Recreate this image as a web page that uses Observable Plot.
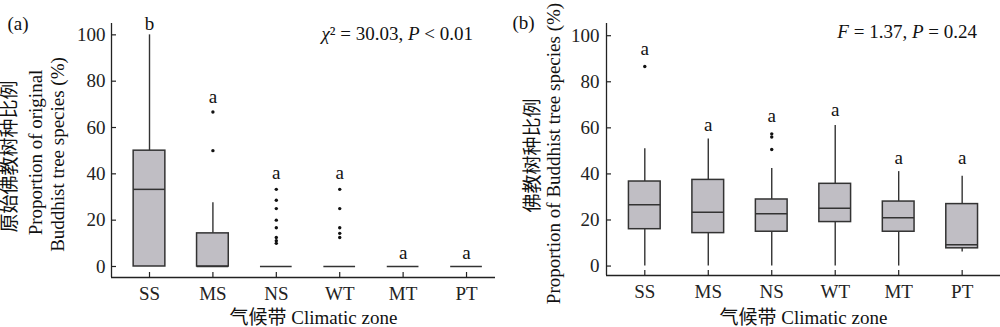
<!DOCTYPE html>
<html><head><meta charset="utf-8">
<script src="https://cdn.jsdelivr.net/npm/d3@7"></script>
<script src="https://cdn.jsdelivr.net/npm/@observablehq/plot@0.6"></script>
<style>
body{margin:0;background:#fff;}
#wrap{display:flex;width:1000px;height:327px;overflow:hidden;}
#wrap > div{width:500px;height:327px;}
</style></head><body><div id="wrap"><div id="pa"></div><div id="pb"></div></div>
<script>
const zones = ["SS","MS","NS","WT","MT","PT"];
const yTicks = [0,20,40,60,80,100];

// Panel (a): proportion of original Buddhist tree species
const aLow  = [0, 0, 0, 0, 0, 0];
const aQ1   = [0, 0, 0, 0, 0, 0];
const aMed  = [33.3, 0, 0, 0, 0, 0];
const aQ3   = [50, 14.3, 0, 0, 0, 0];
const aHigh = [100, 27.5, 0, 0, 0, 0];
const aOutZone = ["MS","MS","NS","NS","NS","NS","NS","NS","NS","NS","WT","WT","WT","WT","WT"];
const aOutVal  = [66.7, 50, 33.3, 28.6, 25, 20, 16.7, 12.5, 11.1, 10, 33.3, 25, 16.7, 14.3, 12.5];
const aLetters = ["b","a","a","a","a","a"];
const aLetterY = [104.7, 73.1, 40.4, 40.4, 5.9, 5.9];

// Panel (b): proportion of Buddhist tree species
const bLow  = [0, 0, 0, 0, 0, 6.1];
const bQ1   = [16.0, 14.3, 14.9, 19.1, 14.9, 7.7];
const bMed  = [26.6, 23.4, 22.7, 25.1, 21.0, 9.3];
const bQ3   = [36.7, 37.4, 28.9, 35.7, 28.0, 26.9];
const bHigh = [50.9, 55.2, 42.3, 61.0, 41.0, 39.0];
const bOutZone = ["SS","NS","NS","NS"];
const bOutVal  = [86.6, 57.4, 56.0, 50.6];
const bLetters = ["a","a","a","a","a","a"];
const bLetterY = [94.2, 61.2, 65.0, 67.8, 46.8, 46.8];

const FONT = "'Liberation Serif','Times New Roman','Noto Sans CJK SC',serif";
const FILL = "#c0bec4", STROKE = "#333";
const TICK = 5, HALF = 0.25;
const pos = z => zones.indexOf(z) + 1;

function panel(el, o) {
  const rows = zones.map((z, i) => ({i: i + 1, low: o.low[i], q1: o.q1[i], med: o.med[i], q3: o.q3[i], high: o.high[i], letter: o.letters[i], ly: o.letterY[i]}));
  const outs = o.outZone.map((z, i) => ({i: pos(z), v: o.outVal[i]}));
  const idx = zones.map((z, i) => i + 1);
  const H = 327, W = 500, mt = 23;
  const fw = W - o.ml - o.mr, fh = H - mt - o.mb;
  const chart = Plot.plot({
    width: W, height: H,
    marginLeft: o.ml, marginRight: o.mr, marginTop: mt, marginBottom: o.mb,
    style: {fontFamily: FONT, fontSize: "19px", color: "#222", background: "#fff"},
    x: {domain: o.xDomain, label: null},
    y: {domain: o.yDomain, label: null},
    marks: [
      Plot.ruleX(rows, {x: "i", y1: "q3", y2: "high", stroke: STROKE, strokeWidth: 1.4}),
      Plot.ruleX(rows, {x: "i", y1: "low", y2: "q1", stroke: STROKE, strokeWidth: 1.4}),
      Plot.rectY(rows.filter(d => d.q3 > d.q1), {x1: d => d.i - HALF, x2: d => d.i + HALF, y1: "q1", y2: "q3", fill: FILL, stroke: STROKE, strokeWidth: 1.5}),
      Plot.ruleY(rows, {x1: d => d.i - HALF, x2: d => d.i + HALF, y: "med", stroke: STROKE, strokeWidth: 1.5}),
      Plot.dot(outs, {x: "i", y: "v", r: 1.7, fill: "#111", stroke: null}),
      Plot.text(rows, {x: "i", y: "ly", text: "letter", fontSize: 19, fill: "#111"}),
      // axis lines
      Plot.ruleX([o.xDomain[0]], {stroke: "#222", strokeWidth: 1.3}),
      Plot.ruleY([o.yDomain[0]], {stroke: "#222", strokeWidth: 1.3}),
      // inward ticks
      Plot.ruleY(yTicks, {insetRight: fw - TICK, stroke: "#222", strokeWidth: 1.2}),
      Plot.ruleX(idx, {insetTop: fh - TICK, stroke: "#222", strokeWidth: 1.2}),
      Plot.axisY({ticks: yTicks, tickSize: 0, tickPadding: o.ytp, label: null, fontSize: 19}),
      Plot.axisX({ticks: idx, tickFormat: d => zones[d - 1], tickSize: 0, tickPadding: 9, label: null, fontSize: 19}),
      ...o.ytitle.map(t => Plot.text([t.s], {frameAnchor: "left", rotate: -90, dx: t.dx, dy: t.dy, fontSize: 19, fill: "#111", textAnchor: "middle", lineAnchor: "middle"})),
      Plot.text([o.xtitle], {frameAnchor: "bottom", dx: o.xtdx, dy: o.xtdy, fontSize: 19, fill: "#111", textAnchor: "middle", lineAnchor: "middle"}),
      Plot.text([o.tag], {frameAnchor: "top-left", dx: o.tagdx, dy: o.tagdy, textAnchor: "start", lineAnchor: "middle", fontSize: 19, fill: "#111"})
    ]
  });
  // statistics annotation with italic symbols
  const t = d3.select(chart).append("text")
    .attr("x", o.statX).attr("y", o.statY)
    .attr("text-anchor", "end")
    .attr("font-family", FONT).attr("font-size", 19).attr("fill", "#111");
  o.stat.forEach(([s, it]) => t.append("tspan").attr("font-style", it ? "italic" : null).text(s));
  document.getElementById(el).appendChild(chart);
}

panel("pa", {
  low: aLow, q1: aQ1, med: aMed, q3: aQ3, high: aHigh,
  outZone: aOutZone, outVal: aOutVal, letters: aLetters, letterY: aLetterY,
  ml: 111, mr: 5, mb: 50, xDomain: [0.4006, 6.457], yDomain: [-4.75, 104.9], ytp: 6,
  ytitle: [
    {s: "原始佛教树种比例", dx: -102, dy: 6},
    {s: "Proportion of original", dx: -76, dy: 2},
    {s: "Buddhist tree species (%)", dx: -54, dy: 4}
  ],
  xtitle: "气候带 Climatic zone", xtdx: 10, xtdy: 40,
  tag: "(a)", tagdx: -104, tagdy: 0,
  stat: [["χ", true], ["² = 30.03, ", false], ["P", true], [" < 0.01", false]],
  statX: 473, statY: 40
});

panel("pb", {
  low: bLow, q1: bQ1, med: bMed, q3: bQ3, high: bHigh,
  outZone: bOutZone, outVal: bOutVal, letters: bLetters, letterY: bLetterY,
  ml: 106, mr: 0, mb: 52, xDomain: [0.3966, 6.604], yDomain: [-4.1, 105.3], ytp: 7,
  ytitle: [
    {s: "佛教树种比例", dx: -74, dy: 6},
    {s: "Proportion of Buddhist tree species (%)", dx: -53, dy: 4}
  ],
  xtitle: "气候带 Climatic zone", xtdx: 0, xtdy: 42,
  tag: "(b)", tagdx: -94, tagdy: -1,
  stat: [["F", true], [" = 1.37, ", false], ["P", true], [" = 0.24", false]],
  statX: 477, statY: 38
});
</script></body></html>
